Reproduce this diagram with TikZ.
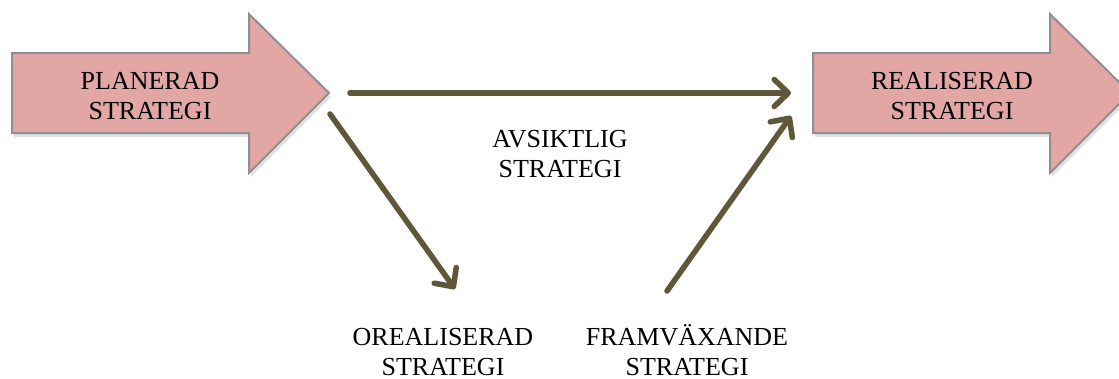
\documentclass[tikz,border=0pt]{standalone}
\usepackage{fontspec}
\setmainfont{Liberation Serif}
\usetikzlibrary{arrows.meta}
\definecolor{flowline}{HTML}{5E5739}
\definecolor{blockfill}{HTML}{E2A6A5}
\definecolor{blockedge}{HTML}{8F8F8F}
\definecolor{softshade}{HTML}{BDBDBD}
\begin{document}
\begin{tikzpicture}[x=1pt,y=-1pt,
  label/.style={align=center,font=\fontsize{26}{30}\selectfont,inner sep=0pt},
  bigarrow/.style={fill=blockfill,draw=blockedge,line width=2pt,line join=miter},
  shade/.style={fill=softshade,opacity=0.45,draw=none},
  flow/.style={draw=flowline,line width=5.5pt,line cap=round,
    -{Straight Barb[length=14pt,width=27pt,round]}},
  flowshade/.style={draw=softshade,opacity=0.45,line width=5.5pt,line cap=round,
    -{Straight Barb[length=14pt,width=27pt,round]}}]
\useasboundingbox (0,0) rectangle (1119,378);
\clip (0,0) rectangle (1119,378);

% block arrow outlines
\def\blockpath#1{(#1+0,53) -- (#1+237,53) -- (#1+237,14) -- (#1+317,93)
  -- (#1+237,173) -- (#1+237,133) -- (#1+0,133) -- cycle}
\fill[shade,shift={(2,4)}] \blockpath{12};
\fill[shade,shift={(2,4)}] \blockpath{813};
\draw[bigarrow] \blockpath{12};
\draw[bigarrow] \blockpath{813};

% texts (base anchor sits on the last line)
\node[label,anchor=base] (plan) at (150,119) {PLANERAD\\STRATEGI};
\node[label,anchor=base] (real) at (952,119) {REALISERAD\\STRATEGI};
\node[label,anchor=base] (avs) at (560,177) {AVSIKTLIG\\STRATEGI};
\node[label,anchor=base] (orea) at (443,375) {OREALISERAD\\STRATEGI};
\node[label,anchor=base] (fram) at (687,375) {FRAMVÄXANDE\\STRATEGI};

% connector end points
\coordinate (hstart) at (350,93);
\coordinate (hend) at (791,93);
\coordinate (dstart) at (330,114);
\coordinate (dend) at (455,289);
\coordinate (ustart) at (667,291);
\coordinate (uend) at (791,116);

\foreach \a/\b in {hstart/hend,dstart/dend,ustart/uend}{
  \draw[flowshade,shift={(2,4)}] (\a) -- (\b);
}
\draw[flow] (hstart) -- (hend);
\draw[flow] (dstart) -- (dend);
\draw[flow] (ustart) -- (uend);
\end{tikzpicture}
\end{document}
